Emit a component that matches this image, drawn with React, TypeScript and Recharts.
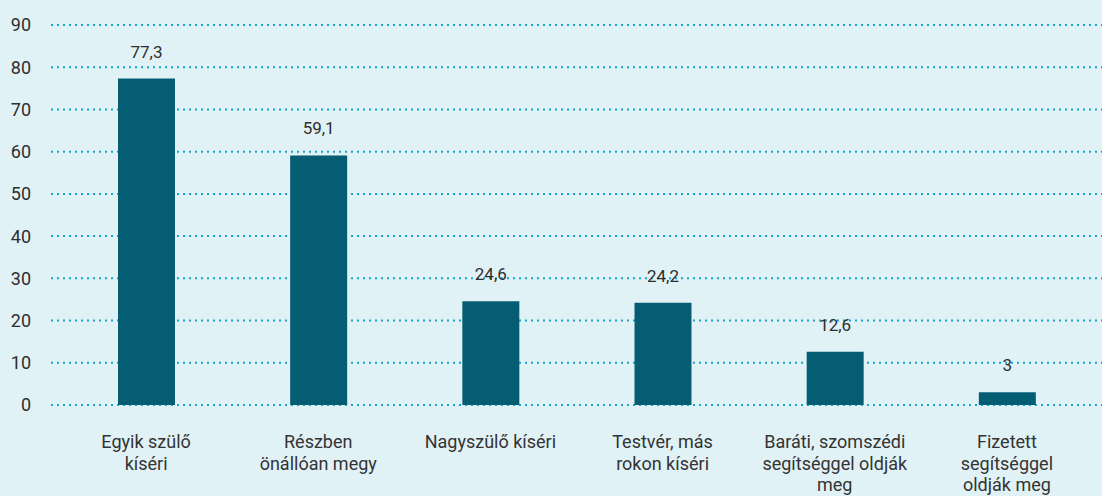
import React from 'react';
import { BarChart, Bar, XAxis, YAxis, CartesianGrid, LabelList } from 'recharts';

const categories = [
  'Egyik szülő\nkíséri',
  'Részben\nönállóan megy',
  'Nagyszülő kíséri',
  'Testvér, más\nrokon kíséri',
  'Baráti, szomszédi\nsegítséggel oldják\nmeg',
  'Fizetett\nsegítséggel\noldják meg',
];
const values = [77.3, 59.1, 24.6, 24.2, 12.6, 3];
const yTicks = [0, 10, 20, 30, 40, 50, 60, 70, 80, 90];

const data = categories.map((name, i) => ({ name, value: values[i] }));

const fmt = (v: number) => String(v).replace('.', ',');

// multi-line category labels under the bars
const CategoryTick = ({ x, y, payload }: any) => {
  const lines = String(payload.value).split('\n');
  return (
    <text x={x} y={y + 35} textAnchor="middle" fill="#333" fontSize={18} fontFamily="Roboto">
      {lines.map((line, i) => (
        <tspan key={i} x={x} dy={i === 0 ? 0 : 21.7}>
          {line}
        </tspan>
      ))}
    </text>
  );
};

const App: React.FC = () => {
  return (
    <div style={{ position: 'absolute', left: 0, top: 0, width: 1102, height: 496, background: '#e1f2f7' }}>
      <BarChart
        width={1102}
        height={496}
        data={data}
        margin={{ top: 25, right: 0, left: 0, bottom: 0 }}
        barSize={57}
      >
        <CartesianGrid
          vertical={false}
          stroke="#12a8cc"
          strokeWidth={2}
          strokeDasharray="2 4"
        />
        <XAxis
          dataKey="name"
          axisLine={false}
          tickLine={false}
          height={91}
          interval={0}
          padding={{ left: 9, right: 9 }}
          tick={<CategoryTick />}
        />
        <YAxis
          domain={[0, 90]}
          ticks={yTicks}
          width={51}
          axisLine={false}
          tickLine={false}
          tickSize={6}
          tickMargin={14}
          tick={{ fill: '#2e2e2e', fontSize: 18, fontFamily: 'Roboto' }}
        />
        <Bar dataKey="value" fill="#055d74" isAnimationActive={false}>
          <LabelList
            dataKey="value"
            position="top"
            offset={21}
            formatter={(v: any) => fmt(Number(v))}
            style={{ fill: '#2e2e2e', fontSize: 17, fontFamily: 'Roboto' }}
          />
        </Bar>
      </BarChart>
    </div>
  );
};

export default App;
